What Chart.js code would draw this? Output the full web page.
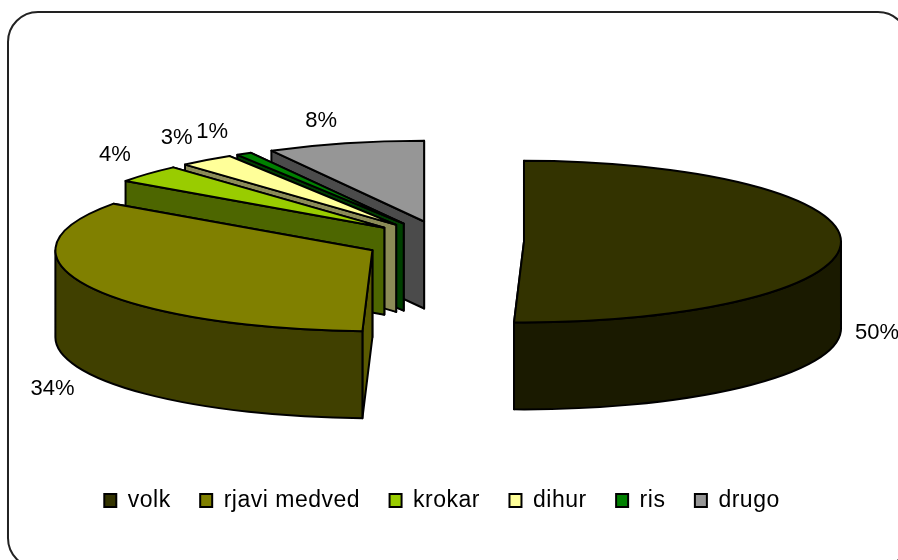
<!DOCTYPE html>
<html>
<head>
<meta charset="utf-8">
<style>html,body{margin:0;padding:0;background:#fff;overflow:hidden}canvas{display:block}</style>
<script src="https://cdn.jsdelivr.net/npm/chart.js@4"></script>
</head>
<body>
<canvas id="c" width="898" height="560"></canvas>
<script>
const categories = ['volk', 'rjavi medved', 'krokar', 'dihur', 'ris', 'drugo'];
const values = [50.5, 34.3, 3.6, 2.8, 0.8, 8.0];
const percentLabels = ['50%', '34%', '4%', '3%', '1%', '8%'];
const topColors = ['#333300', '#808000', '#99cc00', '#ffff99', '#008000', '#969696'];
const wallColors = ['#1a1a00', '#404000', '#4d6600', '#80804d', '#004000', '#4b4b4b'];
const faceColors = ['#1a1a00', '#5a5a00', '#4d6600', '#8c8c57', '#004000', '#4b4b4b'];
const labelNudge = [[36, 90], [-36, 103], [-33, -19], [-30, -22], [-32, -22], [-24, -22]];

const SQUASH = 0.255, DEPTH = 87;

const pie3d = {
  id: 'pie3d',
  beforeLayout(chart) { chart.ctx.letterSpacing = '0.5px'; },
  afterLayout(chart) { chart.legend.left -= 2; chart.legend.right -= 2; },
  beforeDraw(chart) {
    const ctx = chart.ctx;
    ctx.save();
    ctx.fillStyle = '#fff';
    ctx.fillRect(0, 0, chart.width, chart.height);
    ctx.beginPath();
    ctx.roundRect(8, 12, 900, 556, 30);
    ctx.lineWidth = 2;
    ctx.strokeStyle = '#222';
    ctx.stroke();
    ctx.restore();
    ctx.letterSpacing = '0.5px';
  },
  beforeDatasetsDraw(chart) {
    const ctx = chart.ctx;
    const arcs = chart.getDatasetMeta(0).data;
    const order = [5, 4, 3, 2, 1, 0];
    ctx.save();
    ctx.lineJoin = 'round';
    for (const i of order) {
      const arc = arcs[i];
      const s = arc.startAngle, e = arc.endAngle, r = arc.outerRadius, ry = r * SQUASH;
      const mid = (s + e) / 2, off = arc.options.offset / 4;
      const ax = arc.x + Math.cos(mid) * off, ay = arc.y + Math.sin(mid) * off * SQUASH;
      ctx.strokeStyle = arc.options.borderColor;
      ctx.lineWidth = arc.options.borderWidth;
      for (const a of [e, s]) {
        const px = ax + Math.cos(a) * r, py = ay + Math.sin(a) * ry;
        ctx.beginPath();
        ctx.moveTo(ax, ay); ctx.lineTo(px, py); ctx.lineTo(px, py + DEPTH); ctx.lineTo(ax, ay + DEPTH);
        ctx.closePath();
        ctx.fillStyle = faceColors[i];
        ctx.fill(); ctx.stroke();
      }
      const lo = Math.max(s, 0), hi = Math.min(e, Math.PI);
      if (lo < hi) {
        ctx.beginPath();
        ctx.ellipse(ax, ay, r, ry, 0, lo, hi);
        ctx.ellipse(ax, ay + DEPTH, r, ry, 0, hi, lo, true);
        ctx.closePath();
        ctx.fillStyle = wallColors[i];
        ctx.fill(); ctx.stroke();
      }
      ctx.beginPath();
      ctx.moveTo(ax, ay);
      ctx.ellipse(ax, ay, r, ry, 0, s, e);
      ctx.closePath();
      ctx.fillStyle = arc.options.backgroundColor;
      ctx.fill(); ctx.stroke();
    }
    ctx.font = '22px "Liberation Sans", Arial, sans-serif';
    ctx.letterSpacing = '0px';
    ctx.fillStyle = '#000';
    ctx.textAlign = 'center';
    ctx.textBaseline = 'middle';
    arcs.forEach((arc, i) => {
      const mid = (arc.startAngle + arc.endAngle) / 2, off = arc.options.offset / 4, r = arc.outerRadius;
      const x = arc.x + Math.cos(mid) * (off + r) + labelNudge[i][0];
      const y = arc.y + Math.sin(mid) * (off + r) * SQUASH + labelNudge[i][1];
      ctx.fillText(percentLabels[i], x, y);
    });
    ctx.restore();
    return false;
  }
};

new Chart(document.getElementById('c'), {
  type: 'pie',
  data: {
    labels: categories,
    datasets: [{
      data: values,
      backgroundColor: topColors,
      borderColor: '#000',
      borderWidth: 2,
      offset: 320
    }]
  },
  options: {
    responsive: false,
    animation: false,
    events: [],
    radius: 317,
    layout: { padding: { top: 23, right: 10, bottom: 38, left: 0 } },
    plugins: {
      tooltip: { enabled: false },
      legend: {
        position: 'bottom',
        labels: {
          boxWidth: 12,
          boxHeight: 13,
          padding: 29.5,
          color: '#000',
          font: { family: '"Liberation Sans", Arial, sans-serif', size: 23 }
        }
      }
    }
  },
  plugins: [pie3d]
});
</script>
</body>
</html>
